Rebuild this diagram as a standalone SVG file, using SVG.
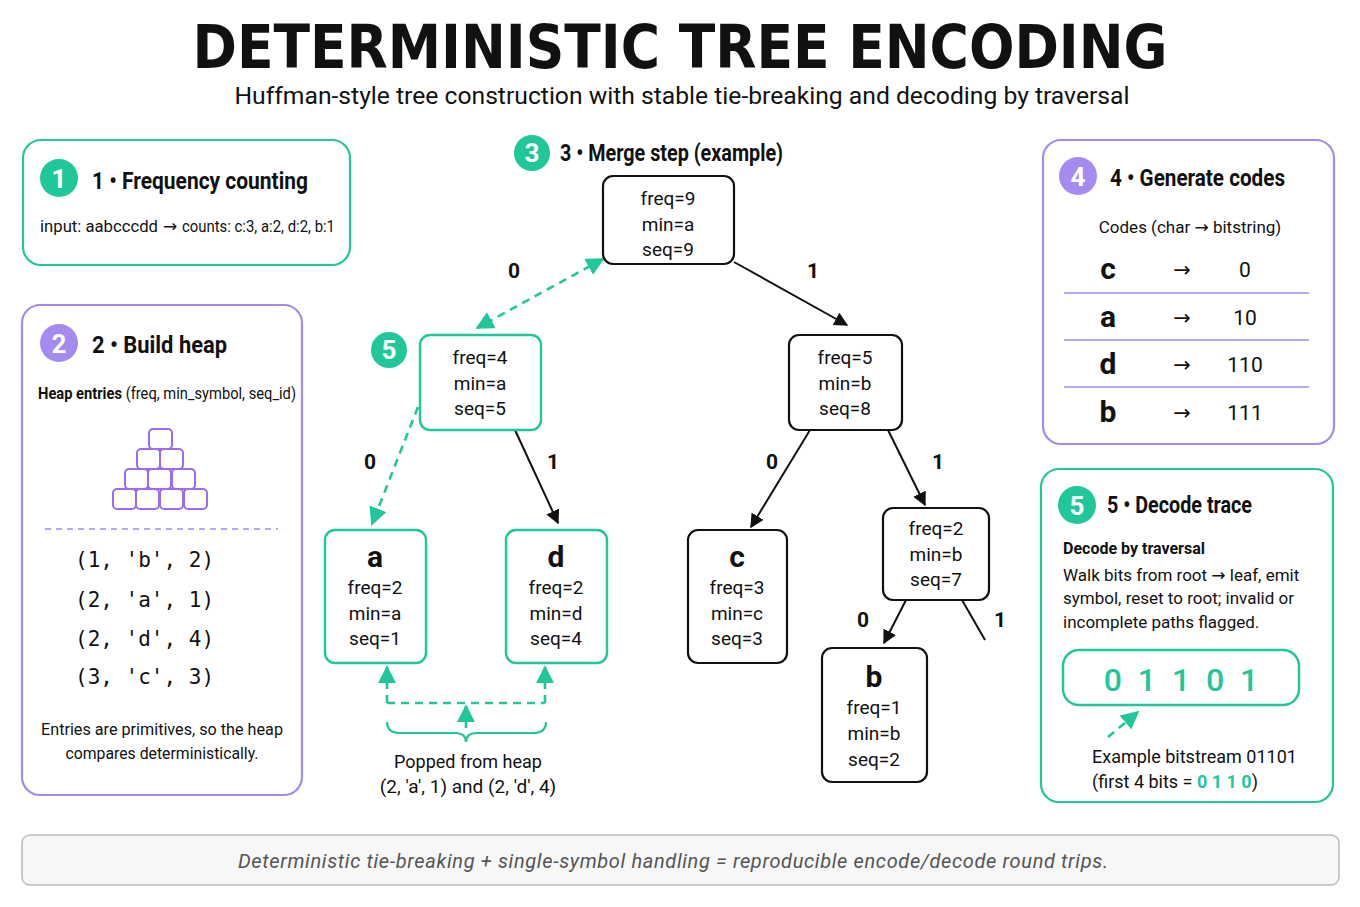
<svg xmlns="http://www.w3.org/2000/svg" width="1360" height="907" viewBox="0 0 1360 907">
<defs>
<marker id="ab" viewBox="0 0 10 10" refX="9" refY="5" markerWidth="7" markerHeight="7" orient="auto-start-reverse"><path d="M0,0 L10,5 L0,10 z" fill="#111"/></marker>
<marker id="at" viewBox="0 0 10 10" refX="9" refY="5" markerWidth="7" markerHeight="7" orient="auto-start-reverse"><path d="M0,0 L10,5 L0,10 z" fill="#1fc79a"/></marker>
<style>
text{font-family:Roboto,"Liberation Sans",sans-serif;fill:#111}
.ar{font-family:"DejaVu Sans",sans-serif}
.h{font-family:"Liberation Sans Narrow",Roboto,"Liberation Sans",sans-serif;font-weight:bold;font-size:23px}
.b{font-size:17px}
.n{font-size:19px;text-anchor:middle}
.L{font-size:30px;font-weight:bold;text-anchor:middle}
.mono{font-family:"DejaVu Sans Mono","Liberation Mono",monospace;font-size:21px}
.pt{fill:#fff;stroke:#a58af0;stroke-width:2.2}
.tt{fill:#fff;stroke:#1fc79a;stroke-width:2.2}
.node{fill:#fff;stroke:#111;stroke-width:2.2}
.tnode{fill:#fff;stroke:#1fc79a;stroke-width:2.4}
.el{font-size:21px;font-weight:bold;text-anchor:middle}
.ci{font-size:26px;font-weight:bold;fill:#fff;text-anchor:middle}
.e{stroke:#111;stroke-width:2;fill:none;marker-end:url(#ab)}
.d{stroke:#1fc79a;stroke-width:2.6;fill:none;stroke-dasharray:8 6}
.hb{fill:#fff;stroke:#9c6cf0;stroke-width:2}
</style>
</defs>
<rect width="1360" height="907" fill="#fff"/>
<text x="680" y="68" text-anchor="middle" style="font-family:'DejaVu Sans','Liberation Sans',sans-serif;font-weight:900;font-size:60px" textLength="975" lengthAdjust="spacingAndGlyphs">DETERMINISTIC TREE ENCODING</text>
<text x="682" y="104" text-anchor="middle" font-size="24" textLength="895" lengthAdjust="spacingAndGlyphs">Huffman-style tree construction with stable tie-breaking and decoding by traversal</text>

<g id="step1">
<rect class="tt" x="23" y="140" width="327" height="125" rx="18"/>
<circle cx="59" cy="178" r="19" fill="#1fc79a"/><text class="ci" x="59" y="188">1</text>
<text class="h" x="92" y="189" textLength="216" lengthAdjust="spacingAndGlyphs">1 • Frequency counting</text>
<text class="b" x="40" y="232" textLength="118" lengthAdjust="spacingAndGlyphs">input: aabcccdd</text>
<text class="b ar" x="163" y="232" font-size="14">→</text>
<text class="b" x="182" y="232" textLength="153" lengthAdjust="spacingAndGlyphs">counts: c:3, a:2, d:2, b:1</text>
</g>

<g id="step2">
<rect class="pt" x="22" y="305" width="280" height="490" rx="18"/>
<circle cx="59" cy="343" r="19" fill="#a58af0"/><text class="ci" x="59" y="353">2</text>
<text class="h" x="92" y="353" textLength="135" lengthAdjust="spacingAndGlyphs">2 • Build heap</text>
<text x="38" y="399" font-size="16" textLength="258" lengthAdjust="spacingAndGlyphs"><tspan font-weight="bold">Heap entries</tspan> (freq, min_symbol, seq_id)</text>
<g>
<rect class="hb" x="149" y="429" width="23" height="20" rx="4"/>
<rect class="hb" x="137" y="449" width="23" height="20" rx="4"/><rect class="hb" x="160" y="449" width="23" height="20" rx="4"/>
<rect class="hb" x="125" y="469" width="23" height="20" rx="4"/><rect class="hb" x="148" y="469" width="23" height="20" rx="4"/><rect class="hb" x="172" y="469" width="23" height="20" rx="4"/>
<rect class="hb" x="113" y="489" width="23" height="20" rx="4"/><rect class="hb" x="136" y="489" width="23" height="20" rx="4"/><rect class="hb" x="160" y="489" width="23" height="20" rx="4"/><rect class="hb" x="184" y="489" width="23" height="20" rx="4"/>
</g>
<line x1="45" y1="529" x2="278" y2="529" stroke="#a58af0" stroke-width="1.5" stroke-dasharray="6 5"/>
<text class="mono" x="75" y="567" xml:space="preserve">(1, 'b', 2)</text>
<text class="mono" x="75" y="607" xml:space="preserve">(2, 'a', 1)</text>
<text class="mono" x="75" y="646" xml:space="preserve">(2, 'd', 4)</text>
<text class="mono" x="75" y="684" xml:space="preserve">(3, 'c', 3)</text>
<text class="b" x="162" y="735" text-anchor="middle" textLength="242" lengthAdjust="spacingAndGlyphs">Entries are primitives, so the heap</text>
<text class="b" x="162" y="759" text-anchor="middle" textLength="193" lengthAdjust="spacingAndGlyphs">compares deterministically.</text>
</g>

<g id="step3label">
<circle cx="532" cy="153" r="18" fill="#1fc79a"/><text class="ci" x="532" y="162" font-size="24">3</text>
<text class="h" x="560" y="161" font-size="20" textLength="223" lengthAdjust="spacingAndGlyphs">3 • Merge step (example)</text>
<circle cx="389" cy="350" r="18" fill="#1fc79a"/><text class="ci" x="389" y="359" font-size="24">5</text>
</g>

<g id="connectors">
<path class="d" d="M603,259 L477,328" marker-start="url(#at)" marker-end="url(#at)"/>
<path class="e" d="M734,262 L847,325"/>
<path class="d" d="M418,407 L372,524" marker-end="url(#at)"/>
<path class="e" d="M515,430 L558,523"/>
<path class="e" d="M810,430 L751,527"/>
<path class="e" d="M888,430 L925,505"/>
<path class="e" d="M906,600 L884,643"/>
<path d="M962,600 L985,640" stroke="#111" stroke-width="2" fill="none"/>
<path class="d" d="M387,703 L387,667" marker-end="url(#at)"/>
<path class="d" d="M545,703 L545,667" marker-end="url(#at)"/>
<path class="d" d="M387,703 L545,703"/>
<path class="d" d="M466,728 L466,706" marker-end="url(#at)"/>
<path d="M387,722 Q387,733 400,733 L455,733 Q466,733 466,742 Q466,733 477,733 L533,733 Q546,733 546,722" stroke="#1fc79a" stroke-width="2.2" fill="none"/>
<text class="el" x="514" y="278">0</text><text class="el" x="813" y="278">1</text>
<text class="el" x="370" y="469">0</text><text class="el" x="553" y="469">1</text>
<text class="el" x="772" y="469">0</text><text class="el" x="938" y="469">1</text>
<text class="el" x="863" y="627">0</text><text class="el" x="1000" y="627">1</text>
</g>

<g id="root"><rect class="node" x="603" y="176" width="131" height="88" rx="10"/>
<text class="n" x="668" y="205">freq=9</text><text class="n" x="668" y="231">min=a</text><text class="n" x="668" y="256">seq=9</text></g>
<g id="n4"><rect class="tnode" x="420" y="335" width="121" height="95" rx="10"/>
<text class="n" x="480" y="364">freq=4</text><text class="n" x="480" y="390">min=a</text><text class="n" x="480" y="415">seq=5</text></g>
<g id="n5"><rect class="node" x="789" y="335" width="113" height="95" rx="10"/>
<text class="n" x="845" y="364">freq=5</text><text class="n" x="845" y="390">min=b</text><text class="n" x="845" y="415">seq=8</text></g>
<g id="leafa"><rect class="tnode" x="325" y="530" width="101" height="133" rx="10"/>
<text class="L" x="375" y="567">a</text><text class="n" x="375" y="594">freq=2</text><text class="n" x="375" y="620">min=a</text><text class="n" x="375" y="645">seq=1</text></g>
<g id="leafd"><rect class="tnode" x="506" y="530" width="101" height="133" rx="10"/>
<text class="L" x="556" y="567">d</text><text class="n" x="556" y="594">freq=2</text><text class="n" x="556" y="620">min=d</text><text class="n" x="556" y="645">seq=4</text></g>
<g id="leafc"><rect class="node" x="688" y="530" width="99" height="133" rx="10"/>
<text class="L" x="737" y="567">c</text><text class="n" x="737" y="594">freq=3</text><text class="n" x="737" y="620">min=c</text><text class="n" x="737" y="645">seq=3</text></g>
<g id="n2"><rect class="node" x="883" y="508" width="106" height="92" rx="10"/>
<text class="n" x="936" y="535">freq=2</text><text class="n" x="936" y="561">min=b</text><text class="n" x="936" y="586">seq=7</text></g>
<g id="leafb"><rect class="node" x="822" y="648" width="105" height="134" rx="10"/>
<text class="L" x="874" y="687">b</text><text class="n" x="874" y="714">freq=1</text><text class="n" x="874" y="740">min=b</text><text class="n" x="874" y="766">seq=2</text></g>

<g id="popped">
<text x="468" y="768" font-size="18" text-anchor="middle">Popped from heap</text>
<text x="468" y="793" font-size="19" text-anchor="middle">(2, 'a', 1) and (2, 'd', 4)</text>
</g>

<g id="step4">
<rect class="pt" x="1043" y="140" width="291" height="304" rx="18"/>
<circle cx="1078" cy="176" r="19" fill="#a58af0"/><text class="ci" x="1078" y="186">4</text>
<text class="h" x="1110" y="186" textLength="175" lengthAdjust="spacingAndGlyphs">4 • Generate codes</text>
<text class="b" x="1190" y="233" text-anchor="middle" font-size="18">Codes (char <tspan class="ar">→</tspan> bitstring)</text>
<g stroke="#a58af0" stroke-width="1.5"><line x1="1064" y1="293" x2="1309" y2="293"/><line x1="1064" y1="340" x2="1309" y2="340"/><line x1="1064" y1="387" x2="1309" y2="387"/></g>
<g font-size="21"><text x="1108" y="279" class="L" font-size="26">c</text><text x="1182" y="277" text-anchor="middle" class="ar">→</text><text x="1245" y="277" text-anchor="middle">0</text>
<text x="1108" y="327" class="L" font-size="26">a</text><text x="1182" y="325" text-anchor="middle" class="ar">→</text><text x="1245" y="325" text-anchor="middle">10</text>
<text x="1108" y="374" class="L" font-size="26">d</text><text x="1182" y="372" text-anchor="middle" class="ar">→</text><text x="1245" y="372" text-anchor="middle">110</text>
<text x="1108" y="422" class="L" font-size="26">b</text><text x="1182" y="420" text-anchor="middle" class="ar">→</text><text x="1245" y="420" text-anchor="middle">111</text></g>
</g>

<g id="step5">
<rect class="tt" x="1041" y="469" width="292" height="333" rx="18"/>
<circle cx="1077" cy="505" r="19" fill="#1fc79a"/><text class="ci" x="1077" y="515">5</text>
<text class="h" x="1107" y="513" textLength="145" lengthAdjust="spacingAndGlyphs">5 • Decode trace</text>
<text x="1063" y="554" font-size="16" font-weight="bold">Decode by traversal</text>
<text class="b" x="1063" y="581" font-size="16.5">Walk bits from root <tspan class="ar">→</tspan> leaf, emit</text>
<text class="b" x="1063" y="604" font-size="16.5">symbol, reset to root; invalid or</text>
<text class="b" x="1063" y="628" font-size="16.5">incomplete paths flagged.</text>
<rect x="1063" y="650" width="236" height="55" rx="16" fill="#fff" stroke="#1fc79a" stroke-width="2.5"/>
<text x="1181" y="691" text-anchor="middle" style="fill:#1fc79a;font-size:32px;font-weight:500" xml:space="preserve">0  1  1  0  1</text>
<path class="d" d="M1108,737 L1138,712" marker-end="url(#at)"/>
<text x="1092" y="763" font-size="18">Example bitstream 01101</text>
<text x="1092" y="788" font-size="18">(first 4 bits = <tspan style="fill:#1fc79a;font-weight:bold">0 1 1 0</tspan>)</text>
</g>

<g id="footer">
<rect x="22" y="835" width="1317" height="50" rx="8" fill="#f7f7f7" stroke="#bbb" stroke-width="1.5"/>
<text x="673" y="868" text-anchor="middle" font-size="20" font-style="italic" style="fill:#555" textLength="870" lengthAdjust="spacing">Deterministic tie-breaking + single-symbol handling = reproducible encode/decode round trips.</text>
</g>
</svg>
